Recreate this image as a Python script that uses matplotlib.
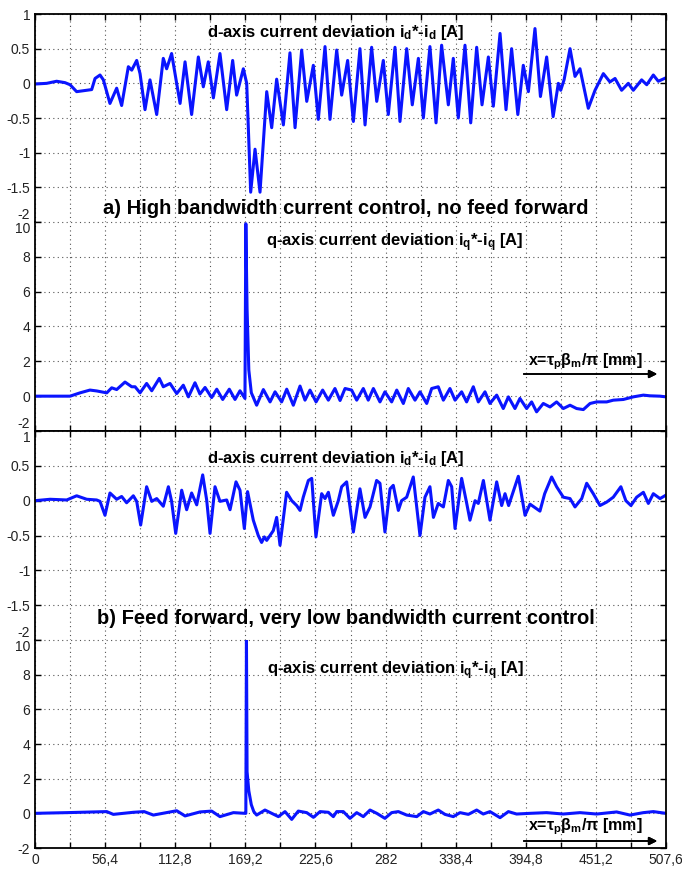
import matplotlib
matplotlib.use('agg')
import numpy as np
import matplotlib.pyplot as plt

plt.rcParams['font.family'] = ['Liberation Sans', 'DejaVu Sans']
plt.rcParams['mathtext.fontset'] = 'custom'
plt.rcParams['mathtext.rm'] = 'Liberation Sans:bold'
plt.rcParams['mathtext.bf'] = 'Liberation Sans:bold'
plt.rcParams['mathtext.it'] = 'Liberation Sans:bold:italic'

# x positions of tick marks and labels
x_ticks = [0, 28.2, 56.4, 84.6, 112.8, 141, 169.2, 197.4, 225.6, 253.8, 282,
           310.2, 338.4, 366.6, 394.8, 423, 451.2, 479.4, 507.6]
x_labels = ['0', '', '56,4', '', '112,8', '', '169,2', '', '225,6', '', '282',
            '', '338,4', '', '394,8', '', '451,2', '', '507,6']
d_ticks = [-2, -1.5, -1, -0.5, 0, 0.5, 1]
d_labels = ['-2', '-1.5', '-1', '-0.5', '0', '0.5', '1']
q_ticks = [-2, 0, 2, 4, 6, 8, 10]
q_labels = ['-2', '0', '2', '4', '6', '8', '10']

# a) d-axis deviation
d_a_x = [0, 9.4, 17.4, 24.1, 28.2, 33.5, 41.6, 45.6, 48.3, 52.3, 55.0, 60.3, 65.7,
         69.7, 75.1, 77.8, 81.8, 84.5, 88.5, 92.5, 97.9, 103.2, 105.9, 109.9, 116.7,
         120.7, 126.0, 131.4, 135.4, 139.4, 143.5, 148.8, 154.2, 159.0, 162.2, 167.6,
         170.3, 173.5, 177.0, 181.0, 186.4, 190.4, 194.4, 199.8, 205.1, 209.2, 214.5,
         218.6, 223.9, 227.9, 233.3, 237.3, 242.7, 246.7, 251.5, 256.1, 261.4, 265.5,
         270.8, 274.9, 280.2, 284.2, 289.6, 293.6, 299.0, 303.5, 308.4, 312.4, 317.7,
         322.6, 327.1, 332.5, 336.5, 340.5, 345.9, 350.5, 355.3, 359.6, 364.7, 368.7,
         374.1, 378.9, 383.4, 388.4, 392.8, 396.9, 402.2, 406.6, 411.6, 416.8, 421.0,
         422.9, 425.6, 430.4, 434.4, 438.4, 445.1, 450.5, 457.2, 462.5, 466.6, 471.9,
         477.3, 481.3, 488.0, 492.1, 497.4, 501.4, 507.6]
d_a_y = [-0.01, 0.0, 0.03, 0.01, -0.02, -0.12, -0.10, -0.09, 0.07, 0.12, 0.05, -0.29,
         -0.07, -0.32, 0.24, 0.19, 0.33, 0.14, -0.38, 0.05, -0.45, 0.36, 0.21, 0.43,
         -0.29, 0.31, -0.45, 0.38, -0.05, 0.31, -0.21, 0.43, -0.38, 0.33, -0.17, 0.21,
         0.0, -1.57, -0.95, -1.57, -0.12, -0.64, 0.06, -0.60, 0.44, -0.64, 0.48, -0.26,
         0.26, -0.52, 0.53, -0.52, 0.48, -0.17, 0.33, -0.55, 0.50, -0.60, 0.52, -0.26,
         0.33, -0.45, 0.52, -0.55, 0.50, -0.31, 0.36, -0.50, 0.53, -0.57, 0.55, -0.31,
         0.36, -0.50, 0.55, -0.57, 0.52, -0.31, 0.38, -0.33, 0.72, -0.38, 0.50, -0.45,
         0.26, -0.12, 0.79, -0.19, 0.38, -0.48, 0.0, -0.10, 0.05, 0.50, 0.10, 0.21,
         -0.36, -0.10, 0.14, 0.02, 0.07, -0.10, 0.0, -0.10, 0.05, -0.02, 0.12, 0.03,
         0.08]

# a) q-axis deviation
q_a_x = [0, 28.2, 36.2, 44.2, 49.6, 57.7, 61.7, 65.7, 72.4, 77.8, 80.5, 84.5, 89.8,
         93.9, 100.0, 103.2, 108.6, 114.0, 119.3, 123.4, 128.7, 132.7, 136.8, 142.1,
         146.2, 151.0, 156.3, 160.9, 164.9, 168.9, 169.6, 170.6, 172.0, 174.0, 178.3,
         183.7, 189.1, 193.1, 198.4, 202.5, 207.8, 213.2, 217.2, 221.2, 226.1, 231.4,
         236.0, 241.3, 245.4, 249.4, 254.7, 258.8, 264.1, 268.1, 272.2, 277.5, 281.5,
         286.9, 291.0, 296.3, 300.3, 305.7, 309.7, 315.1, 319.1, 324.4, 328.5, 333.8,
         337.9, 343.2, 347.2, 352.6, 356.6, 362.0, 366.0, 371.4, 376.7, 380.8, 386.1,
         390.1, 395.5, 399.5, 403.5, 408.9, 414.3, 419.6, 425.0, 430.4, 435.7, 441.1,
         446.5, 451.8, 459.9, 465.2, 473.3, 481.3, 489.4, 494.7, 502.8, 507.6]
q_a_y = [0.0, 0.0, 0.19, 0.35, 0.30, 0.19, 0.48, 0.38, 0.81, 0.54, 0.54, 0.19, 0.73,
         0.31, 1.02, 0.54, 0.73, 0.15, 0.63, -0.04, 0.77, 0.12, 0.50, -0.08, 0.40,
         -0.19, 0.40, -0.19, 0.31, -0.13, 9.9, 5.0, 1.5, 0.2, -0.52, 0.38, -0.33, 0.25,
         -0.33, 0.40, -0.52, 0.58, -0.23, 0.35, -0.33, 0.35, -0.23, 0.44, -0.25, 0.44,
         0.35, -0.23, 0.44, -0.23, 0.44, -0.33, 0.25, -0.33, 0.35, -0.42, 0.44, -0.23,
         0.25, -0.42, 0.44, 0.54, -0.23, 0.44, -0.23, 0.25, -0.33, 0.54, -0.33, 0.25,
         -0.42, 0.06, -0.71, -0.04, -0.71, -0.13, -0.71, -0.33, -0.90, -0.42, -0.62,
         -0.33, -0.71, -0.52, -0.71, -0.77, -0.42, -0.33, -0.33, -0.23, -0.19, -0.04,
         0.06, 0.02, 0.0, -0.04]

# b) d-axis deviation
d_b_x = [0, 12.1, 25.5, 33.5, 41.6, 49.6, 52.3, 56.3, 60.3, 65.7, 69.7, 73.7, 79.1,
         81.8, 85.0, 89.8, 93.9, 97.9, 103.2, 107.3, 109.9, 113.2, 118.0, 122.0, 126.0,
         130.1, 134.9, 138.1, 140.8, 144.8, 148.8, 154.2, 156.9, 161.7, 164.9, 168.4,
         171.0, 175.6, 179.6, 182.3, 184.5, 186.4, 191.7, 194.4, 197.1, 202.4, 206.5,
         210.5, 213.2, 215.8, 219.9, 222.6, 226.0, 230.6, 233.3, 236.0, 240.0, 244.0,
         246.7, 250.7, 256.1, 261.4, 265.5, 269.5, 274.8, 277.5, 281.5, 285.6, 288.2,
         292.3, 294.9, 299.0, 304.3, 309.7, 313.7, 317.7, 320.5, 324.4, 328.5, 332.5,
         335.2, 337.9, 343.2, 347.3, 349.9, 354.0, 356.6, 360.7, 366.0, 371.4, 375.4,
         378.1, 381.0, 388.8, 394.2, 398.2, 402.2, 406.2, 410.0, 415.6, 419.6, 425.0,
         430.4, 434.4, 439.8, 443.8, 449.1, 454.5, 459.9, 465.2, 471.3, 475.3, 479.4,
         484.0, 489.4, 493.4, 497.4, 502.8, 507.6]
d_b_y = [0.0, 0.02, 0.01, 0.07, 0.02, 0.01, -0.01, -0.21, 0.11, 0.02, 0.06, -0.03,
         0.07, -0.01, -0.35, 0.20, -0.01, 0.03, -0.08, 0.20, -0.01, -0.47, 0.15, -0.13,
         0.11, -0.06, 0.37, 0.01, -0.47, 0.20, -0.01, 0.01, -0.13, 0.27, 0.15, -0.40,
         0.13, -0.28, -0.50, -0.60, -0.52, -0.57, -0.43, -0.24, -0.64, 0.12, 0.0,
         -0.07, -0.14, 0.05, 0.29, 0.32, -0.52, 0.10, 0.03, 0.12, -0.21, 0.0,
         0.20, 0.27, -0.45, 0.17, -0.24, -0.09, 0.29, 0.25, -0.45, 0.17, 0.22,
         -0.14, 0.0, 0.05, 0.34, -0.50, 0.05, 0.20, -0.24, -0.04, -0.09, 0.29,
         0.20, -0.40, 0.32, -0.04, -0.28, 0.0, -0.04, 0.29, -0.28, 0.27, -0.07,
         0.10, -0.07, 0.35, -0.21, -0.05, -0.10, -0.15, 0.10, 0.34, 0.20, 0.05,
         0.03, -0.09, 0.03, 0.25, 0.10, -0.07, -0.02, 0.05, 0.20, 0.0, -0.07,
         0.05, 0.12, -0.04, 0.10, 0.03, 0.08]

# b) q-axis deviation
q_b_x = [0, 25.5, 57.7, 63.0, 79.1, 87.8, 95.2, 114.0, 120.7, 132.7, 142.1, 148.8,
         159.6, 168.9, 169.6, 170.1, 170.6, 172.0, 174.0, 176.0, 178.3, 185.0, 190.4,
         195.8, 201.1, 206.5, 211.8, 218.6, 224.0, 229.3, 236.0, 240.0, 242.7, 248.0,
         253.4, 258.8, 264.1, 269.5, 274.9, 281.5, 286.9, 292.3, 299.0, 307.1, 312.4,
         317.7, 324.4, 329.8, 336.5, 341.9, 348.6, 355.3, 360.6, 366.0, 374.1, 380.8,
         387.4, 398.2, 411.6, 425.0, 438.4, 451.8, 467.9, 478.6, 489.4, 497.4, 507.6]
q_b_y = [0.0, 0.04, 0.10, -0.06, 0.06, 0.10, -0.10, 0.15, -0.15, 0.08, 0.13, -0.19,
         0.04, 0.0, 0.0, 10.0, 2.4, 1.3, 0.5, 0.1, -0.10, 0.19, 0.0, -0.19, 0.10,
         -0.35, 0.13, 0.04, -0.23, 0.10, 0.06, -0.19, 0.10, 0.10, -0.29, 0.04, -0.19,
         0.19, 0.0, -0.29, 0.04, 0.10, -0.10, -0.19, 0.10, -0.04, 0.19, -0.06, -0.19,
         0.04, -0.06, 0.19, -0.04, 0.10, -0.25, 0.10, -0.04, 0.0, 0.04, -0.04, 0.04,
         -0.04, 0.08, -0.10, 0.04, 0.10, 0.0]

W, H = 682, 871
fig = plt.figure(figsize=(W / 100, H / 100), dpi=100)


def fx(px):
    return px / W


def fy(py):
    return 1 - py / H


left, right = fx(35), fx(666)
bounds = [14, 222, 431, 640, 848]
panels = [
    (d_a_x, d_a_y, (-2, 1), d_ticks, d_labels),
    (q_a_x, q_a_y, (-2, 10), q_ticks, q_labels),
    (d_b_x, d_b_y, (-2, 1), d_ticks, d_labels),
    (q_b_x, q_b_y, (-2, 10), q_ticks, q_labels),
]
for i, (xs, ys, ylim, yt, yl) in enumerate(panels):
    top, bot = bounds[i], bounds[i + 1]
    ax = fig.add_axes([left, fy(bot), right - left, fy(top) - fy(bot)])
    ax.plot(xs, ys, color='#0a14ff', lw=2.2, solid_joinstyle='round')
    ax.set_xlim(0, 507.6)
    ax.set_ylim(*ylim)
    ax.set_xticks(x_ticks)
    ax.set_yticks(yt)
    ax.set_yticklabels(yl, fontsize=10, color='#222222')
    ax.grid(True, color='#555555', lw=0.8, linestyle=(0, (1, 3)))
    upper = i % 2 == 0
    ax.spines['bottom' if upper else 'top'].set_visible(False)
    for s in ax.spines.values():
        s.set_linewidth(1.3)
    ax.tick_params(direction='in', length=4, width=1, right=True,
                   top=upper, bottom=not upper, labelbottom=(i == 3))
    if i == 3:
        ax.set_xticklabels(x_labels, fontsize=10, color='#222222')
    labs = ax.get_yticklabels()
    if i in (0, 1, 2):
        labs[0].set_va('bottom')
    if i in (1, 2, 3):
        labs[-1].set_va('top')

bold = dict(fontweight='bold', ha='center', va='center')
d_txt = r'd-axis current deviation i$_\mathrm{d}$*-i$_\mathrm{d}$ [A]'
q_txt = r'q-axis current deviation i$_\mathrm{q}$*-i$_\mathrm{q}$ [A]'
x_txt = r'x=τ$_\mathrm{p}$β$_\mathrm{m}$/π [mm]'

fig.text(fx(336), fy(32), d_txt, fontsize=12, **bold)
fig.text(fx(346), fy(209), 'a) High bandwidth current control, no feed forward',
         fontsize=14.5, **bold)
fig.text(fx(395), fy(243), q_txt, fontsize=12, **bold)
fig.text(fx(336), fy(458), d_txt, fontsize=12, **bold)
fig.text(fx(346), fy(619), 'b) Feed forward, very low bandwidth current control',
         fontsize=14.5, **bold)
fig.text(fx(396), fy(671), q_txt, fontsize=12, **bold)

for ty, ay in [(362, 374), (827, 841)]:
    fig.text(fx(585), fy(ty), x_txt, fontsize=11.5, **bold)
    fig.add_artist(plt.annotate('', xy=(fx(660), fy(ay)), xytext=(fx(521), fy(ay)),
                                xycoords='figure fraction',
                                arrowprops=dict(arrowstyle='-|>', color='black',
                                                lw=1.2, mutation_scale=12)))

fig.savefig('out.png', dpi=100)
